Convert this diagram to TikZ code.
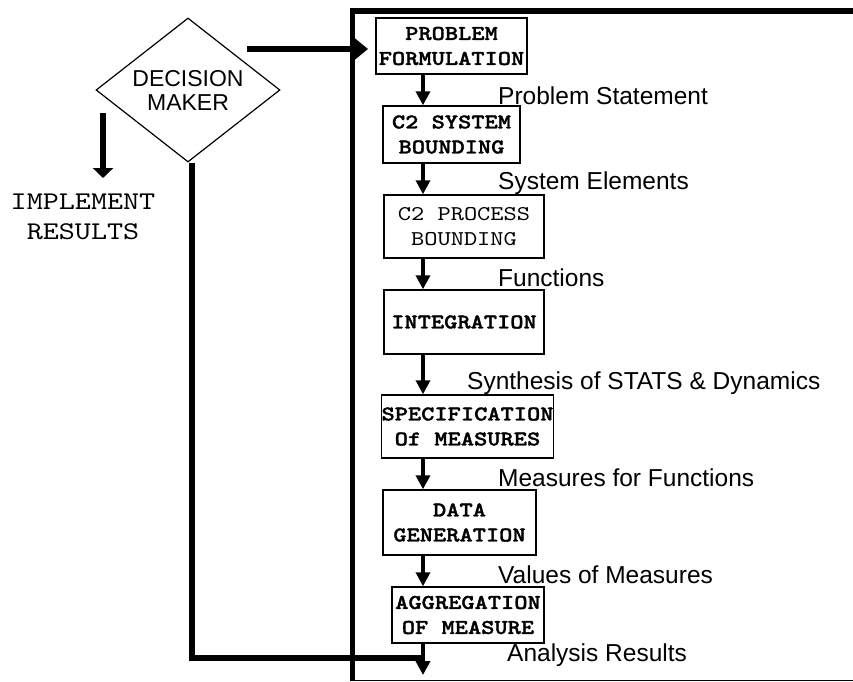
\documentclass[tikz,border=0pt]{standalone}
\usepackage{fontspec}
\setmainfont{Liberation Sans}
\newfontfamily\courfont{lmmono10-regular.otf}[BoldFont=lmmonolt10-bold.otf, BoldFeatures={FakeBold=1.5}, FakeStretch=1.2]
\usetikzlibrary{arrows.meta,shapes.geometric}
\begin{document}
\begin{tikzpicture}[x=1pt,y=-1pt,
  procbox/.style={draw, line width=1.5pt, inner sep=0pt, align=center,
    font=\courfont\fontsize{21}{25}\selectfont},
  bproc/.style={procbox, font=\courfont\bfseries\fontsize{21}{25}\selectfont},
  flowlabel/.style={anchor=west, inner sep=0pt, font=\fontsize{24.5}{28}\selectfont},
  sarrow/.style={line width=4pt, -{Triangle[width=14pt,length=14pt]}},
  barrow/.style={line width=6pt, -{Triangle[width=22pt,length=14pt]}},
  thickline/.style={line width=5.5pt}
]
\useasboundingbox (0,0) rectangle (853,681);

% frame
\draw[thickline] (853,11) -- (352.5,11) -- (352.5,681);
\draw[line width=1pt] (352.5,680) -- (853,680);

% decision maker
\node[diamond, draw, line width=1.2pt, inner sep=0pt, aspect=1.28,
      minimum width=184pt, minimum height=144pt, align=center,
      font=\fontsize{23}{24}\selectfont] (dm) at (188,90) {DECISION\\MAKER};

% process boxes
\node[bproc, minimum width=151pt, minimum height=56pt] (pf) at (451.5,46) {PROBLEM\\FORMULATION};
\node[bproc, minimum width=137pt, minimum height=57pt] (c2s) at (451.5,134.5) {C2 SYSTEM\\BOUNDING};
\node[procbox, minimum width=160pt, minimum height=63pt] (c2p) at (464,226.5) {C2 PROCESS\\BOUNDING};
\node[bproc, minimum width=160pt, minimum height=64pt] (int) at (464,322) {INTEGRATION};
\node[bproc, minimum width=169pt, minimum height=63pt] (spec) at (467.5,426.5) {SPECIFICATION\\Of MEASURES};
\node[bproc, minimum width=153pt, minimum height=65pt] (dg) at (459.5,522.5) {DATA\\GENERATION};
\node[bproc, minimum width=152pt, minimum height=56pt] (agg) at (468,615) {AGGREGATION\\OF MEASURE};

% labels
\node[flowlabel] (l1) at (498,96) {Problem Statement};
\node[flowlabel] (l2) at (498,183) {System Elements};
\node[flowlabel] (l3) at (498,278) {Functions};
\node[flowlabel] (l4) at (467,383) {Synthesis of STATS \& Dynamics};
\node[flowlabel] (l5) at (498,478) {Measures for Functions};
\node[flowlabel] (l6) at (498,575) {Values of Measures};
\node[flowlabel] (l7) at (507,655) {Analysis Results};

% implement results
\node[align=center, inner sep=0pt, font=\courfont\fontsize{25.5}{30}\selectfont] (impl) at (83,217) {IMPLEMENT\\RESULTS};
\coordinate (is) at (103,113);
\coordinate (ie) at (103,178);
\draw[line width=6pt, -{Triangle[width=20pt,length=10pt]}] (is) -- (ie);

% arrow column
\coordinate (ax) at (423,0);
\draw[sarrow] (pf.south -| ax) -- (c2s.north -| ax);
\draw[sarrow] (c2s.south -| ax) -- (c2p.north -| ax);
\draw[sarrow] (c2p.south -| ax) -- (int.north -| ax);
\draw[sarrow] (int.south -| ax) -- (spec.north -| ax);
\draw[sarrow] (spec.south -| ax) -- (dg.north -| ax);
\draw[sarrow] (dg.south -| ax) -- (agg.north -| ax);
\coordinate (aend) at (423,675);
\draw[sarrow] (agg.south -| ax) -- (aend);

% decision -> problem formulation
\coordinate (s1) at (247,49);
\coordinate (s1e) at (368,49);
\draw[barrow] (s1) -- (s1e);

% feedback from results
\coordinate (fb1) at (192,658);
\coordinate (fb2) at (423,658);
\draw[thickline] (dm.south -| fb1) -- (fb1) -- (fb2);
\end{tikzpicture}
\end{document}
